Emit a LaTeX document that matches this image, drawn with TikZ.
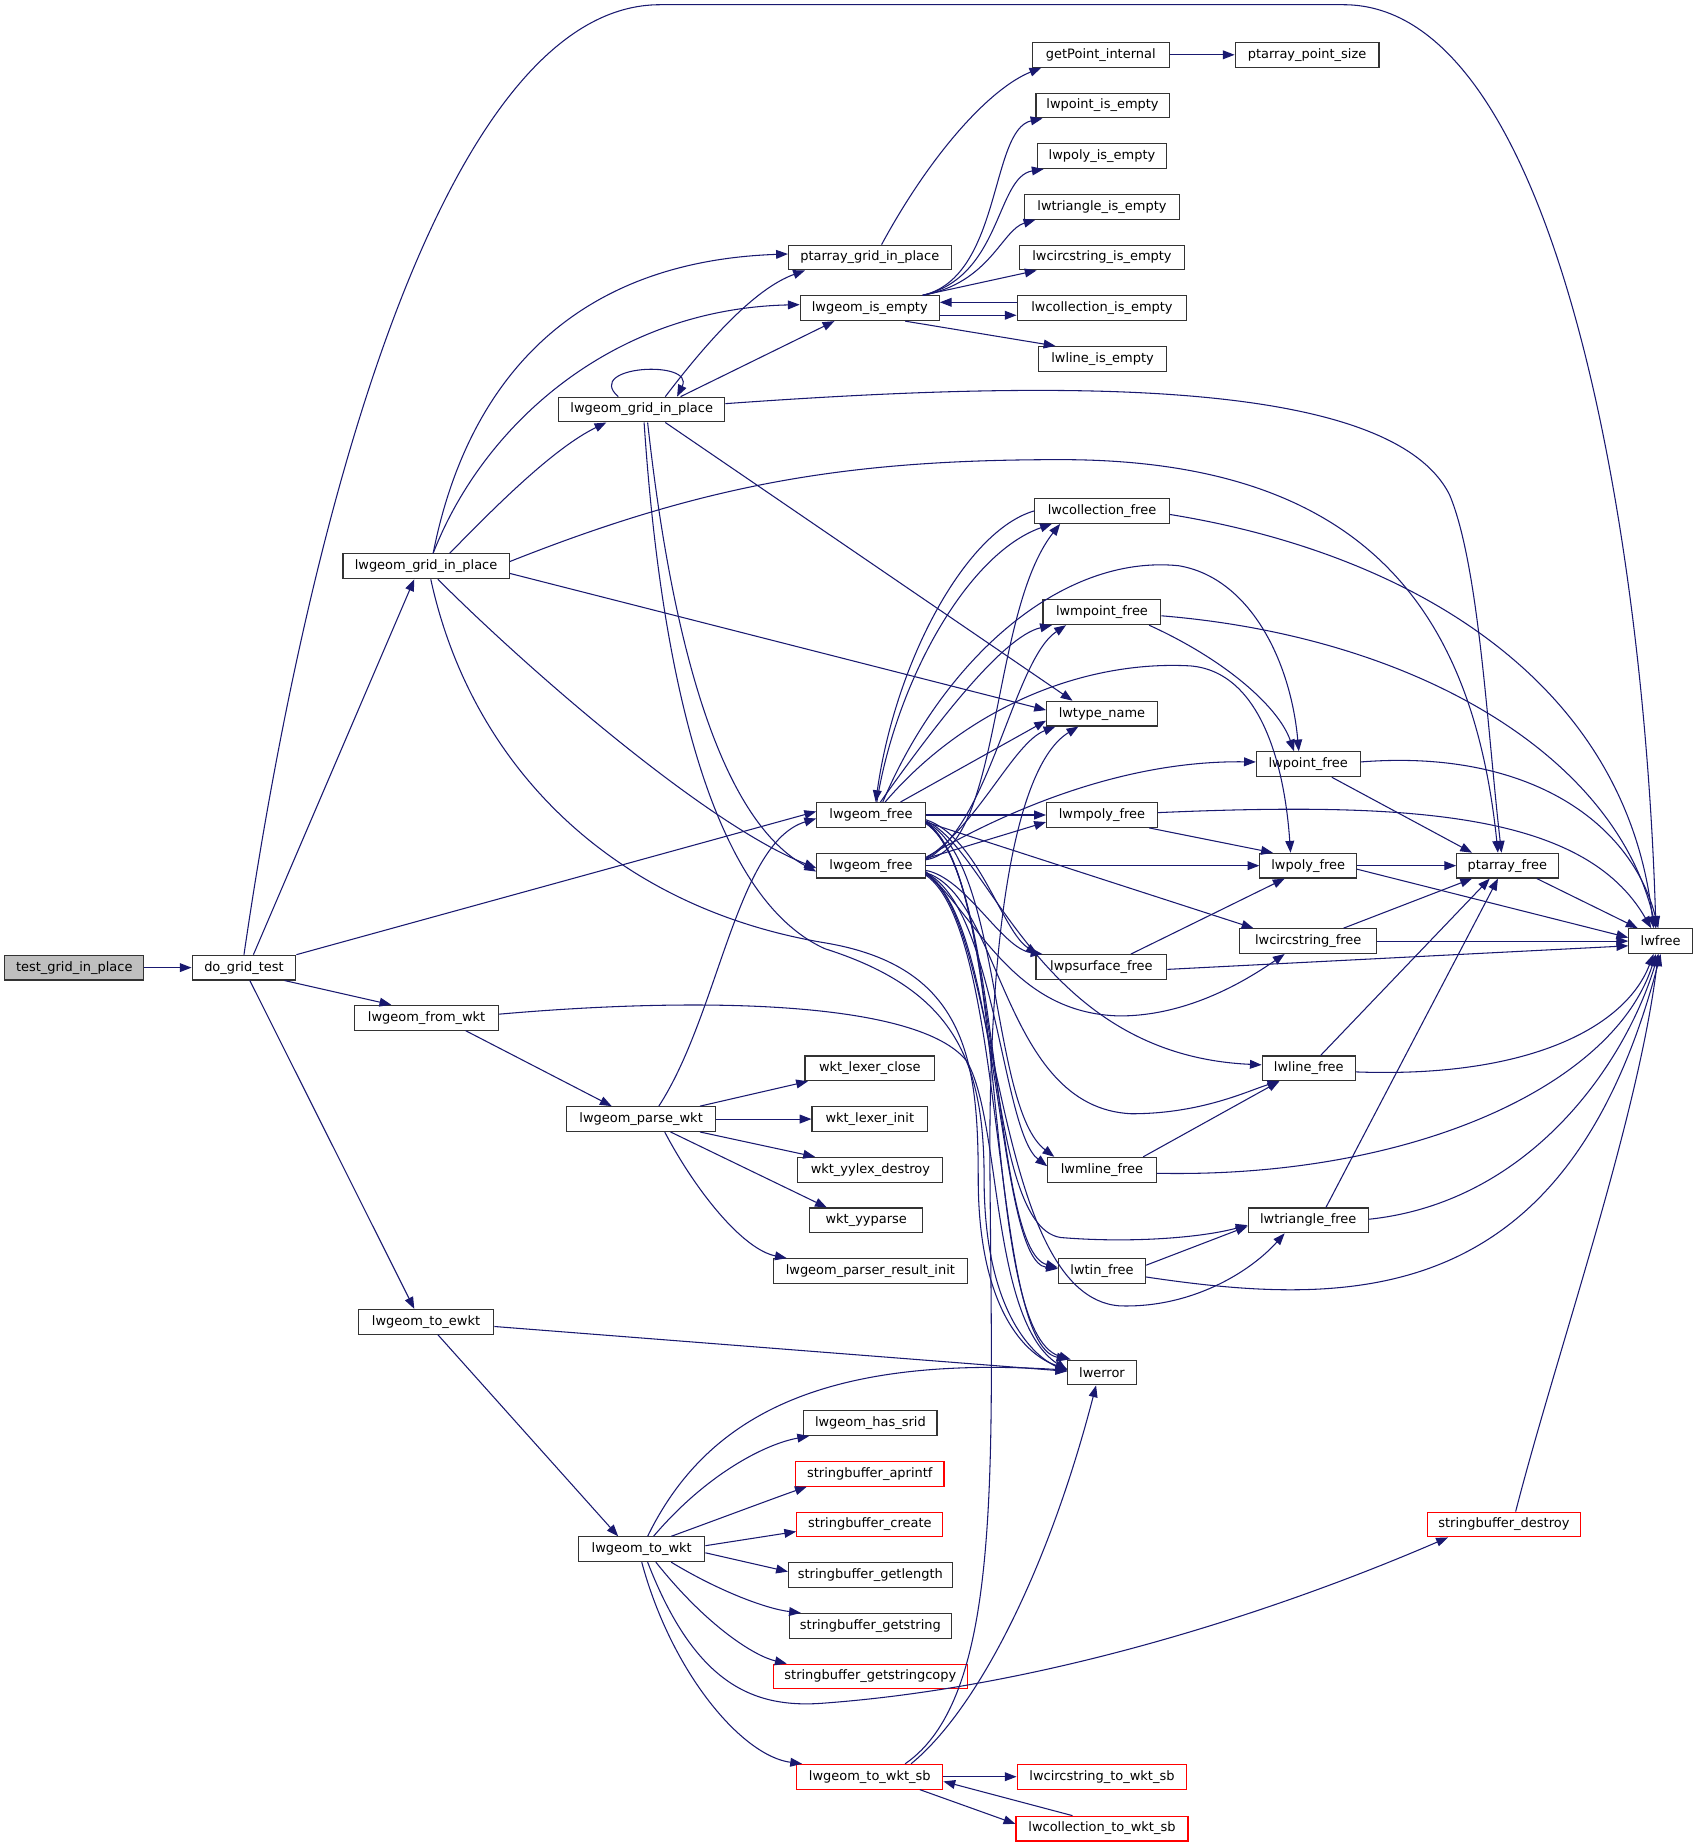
\documentclass[tikz,border=0pt]{standalone}
\usepackage{fontspec}
\setmainfont{DejaVu Sans}
\usetikzlibrary{arrows.meta}
\definecolor{edgec}{HTML}{191970}
\definecolor{boxred}{HTML}{FF0000}
\definecolor{grayfill}{HTML}{BFBFBF}
\definecolor{boxline}{HTML}{333333}
\tikzset{
 fn/.style={draw=boxline, line width=0.95pt, fill=white, minimum height=21pt, inner sep=0pt, font=\fontsize{11}{13}\selectfont, anchor=center},
 fnred/.style={fn, draw=boxred},
 fngray/.style={fn, fill=grayfill},
 e/.style={draw=edgec, line width=0.9pt, -{Triangle[length=10pt,width=7.5pt]}},
}
\begin{document}
\begin{tikzpicture}[x=1pt,y=-1pt]
\useasboundingbox[fill=white] (0,0) rectangle (1440,1568);
% nodes
\node[fngray, minimum width=118pt] (tgip) at (63,821) {test\_grid\_in\_place};
\node[fn, minimum width=88pt] (dgt) at (207,821) {do\_grid\_test};
\node[fn, minimum width=141pt] (lgip1) at (361.5,480.5) {lwgeom\_grid\_in\_place};
\node[fn, minimum width=122pt] (lfw) at (362,863.5) {lwgeom\_from\_wkt};
\node[fn, minimum width=115pt] (lte) at (361.5,1121.5) {lwgeom\_to\_ewkt};
\node[fn, minimum width=138pt] (pgip) at (738,218.5) {ptarray\_grid\_in\_place};
\node[fn, minimum width=118pt] (lie) at (738,261.5) {lwgeom\_is\_empty};
\node[fn, minimum width=141pt] (lgip2) at (544.5,347.5) {lwgeom\_grid\_in\_place};
\node[fn, minimum width=116pt] (gpi) at (934,46.5) {getPoint\_internal};
\node[fn, minimum width=122pt] (pps) at (1109,46.5) {ptarray\_point\_size};
\node[fn, minimum width=113pt] (lpie) at (935.5,89.5) {lwpoint\_is\_empty};
\node[fn, minimum width=110pt] (lpyie) at (935,132.5) {lwpoly\_is\_empty};
\node[fn, minimum width=132pt] (ltie) at (935,175.5) {lwtriangle\_is\_empty};
\node[fn, minimum width=140pt] (lcie) at (935,218.5) {lwcircstring\_is\_empty};
\node[fn, minimum width=144pt] (lcoie) at (935,261.5) {lwcollection\_is\_empty};
\node[fn, minimum width=109pt] (llie) at (935.5,304.5) {lwline\_is\_empty};
\node[fn, minimum width=114pt] (lcof) at (935,433.5) {lwcollection\_free};
\node[fn, minimum width=100pt] (lmpf) at (935,519.5) {lwmpoint\_free};
\node[fn, minimum width=94pt] (ltn) at (935,605.5) {lwtype\_name};
\node[fn, minimum width=88pt] (lptf) at (1110,648.5) {lwpoint\_free};
\node[fn, minimum width=92pt] (lgfA) at (739,691.5) {lwgeom\_free};
\node[fn, minimum width=92pt] (lgfB) at (739,734.5) {lwgeom\_free};
\node[fn, minimum width=94pt] (lmpyf) at (935,691.5) {lwmpoly\_free};
\node[fn, minimum width=82pt] (lpyf) at (1110,734.5) {lwpoly\_free};
\node[fn, minimum width=86pt] (paf) at (1279,734.5) {ptarray\_free};
\node[fn, minimum width=116pt] (lcsf) at (1110,798.5) {lwcircstring\_free};
\node[fn, minimum width=54pt] (lwfree) at (1409,798.5) {lwfree};
\node[fn, minimum width=111pt] (lpsf) at (934.5,820.5) {lwpsurface\_free};
\node[fn, minimum width=79pt] (llf) at (1110.5,906.5) {lwline\_free};
\node[fn, minimum width=92pt] (lmlf) at (935,992.5) {lwmline\_free};
\node[fn, minimum width=102pt] (ltrf) at (1110,1035.5) {lwtriangle\_free};
\node[fn, minimum width=74pt] (ltinf) at (935,1078.5) {lwtin\_free};
\node[fn, minimum width=58pt] (lerr) at (935,1164.5) {lwerror};
\node[fn, minimum width=126pt] (lpw) at (544,949.5) {lwgeom\_parse\_wkt};
\node[fn, minimum width=110pt] (wlc) at (738,906.5) {wkt\_lexer\_close};
\node[fn, minimum width=98pt] (wli) at (738,949.5) {wkt\_lexer\_init};
\node[fn, minimum width=123pt] (wyd) at (738.5,992.5) {wkt\_yylex\_destroy};
\node[fn, minimum width=96pt] (wyp) at (735,1035.5) {wkt\_yyparse};
\node[fn, minimum width=165pt] (lpri) at (738.5,1078.5) {lwgeom\_parser\_result\_init};
\node[fn, minimum width=113pt] (lhs) at (738.5,1207.5) {lwgeom\_has\_srid};
\node[fnred, minimum width=126pt] (sba) at (738,1250.5) {stringbuffer\_aprintf};
\node[fnred, minimum width=124pt] (sbc) at (738,1293.5) {stringbuffer\_create};
\node[fn, minimum width=139pt] (sbgl) at (738.5,1336.5) {stringbuffer\_getlength};
\node[fn, minimum width=137pt] (sbgs) at (738.5,1379.5) {stringbuffer\_getstring};
\node[fnred, minimum width=165pt] (sbgsc) at (738.5,1422.5) {stringbuffer\_getstringcopy};
\node[fn, minimum width=107pt] (ltw) at (544.5,1314.5) {lwgeom\_to\_wkt};
\node[fnred, minimum width=124pt] (ltws) at (738,1507.5) {lwgeom\_to\_wkt\_sb};
\node[fnred, minimum width=144pt] (lcstw) at (935,1507.5) {lwcircstring\_to\_wkt\_sb};
\node[fnred, minimum width=146pt] (lcotw) at (935,1551.5) {lwcollection\_to\_wkt\_sb};
\node[fnred, minimum width=130pt] (sbd) at (1276,1293.5) {stringbuffer\_destroy};

% main
\draw[e] (tgip) -- (dgt);
\draw[e] (dgt.north) .. controls (270,380) and (390,4) .. (560,4) -- (1140,4) .. controls (1320,4) and (1395,450) .. ([xshift=-4pt]lwfree.north);
\draw[e] ([xshift=8pt]dgt.north) -- ([xshift=-10pt]lgip1.south);
\draw[e] (dgt.north east) -- ([yshift=3pt]lgfA.west);
\draw[e] ([xshift=-10pt]dgt.south east) -- ([xshift=-30pt]lfw.north);
\draw[e] ([xshift=5pt]dgt.south) -- ([xshift=-10pt]lte.north);

% lgip1
\draw[e] ([xshift=6pt]lgip1.north) .. controls (395,330) and (480,222) .. ([yshift=3pt]pgip.west);
\draw[e] ([xshift=6pt]lgip1.north) .. controls (410,360) and (520,262) .. ([yshift=3pt]lie.west);
\draw[e] ([xshift=20pt]lgip1.north) .. controls (420,430) and (470,380) .. ([xshift=-30pt]lgip2.south);
\draw[e] ([yshift=4pt]lgip1.east) .. controls (600,410) and (720,390) .. (900,390) .. controls (1160,390) and (1250,520) .. ([xshift=-8pt]paf.north);
\draw[e] ([yshift=-6pt]lgip1.east) -- ([yshift=3pt]ltn.west);
\draw[e] ([xshift=10pt]lgip1.south) .. controls (450,570) and (600,700) .. ([yshift=-2pt]lgfB.west);
\draw[e] ([xshift=4pt]lgip1.south) .. controls (400,650) and (520,770) .. (700,800) .. controls (820,820) and (830,900) .. (830,1000) .. controls (830,1110) and (870,1150) .. ([yshift=3pt]lerr.west);

% lgip2
\draw[e] ([xshift=-20pt]lgip2.north) .. controls (495,310) and (590,305) .. ([xshift=30pt]lgip2.north);
\draw[e] ([xshift=20pt]lgip2.north) .. controls (600,290) and (640,245) .. ([xshift=-55pt]pgip.south);
\draw[e] ([xshift=33pt]lgip2.north) -- ([xshift=-30pt]lie.south);
\draw[e] ([yshift=5pt]lgip2.east) .. controls (900,322) and (1180,320) .. (1230,420) .. controls (1255,480) and (1262,620) .. ([xshift=-5pt]paf.north);
\draw[e] ([xshift=20pt]lgip2.south) -- ([xshift=-25pt]ltn.north);
\draw[e] ([xshift=5pt]lgip2.south) .. controls (565,500) and (600,690) .. ([yshift=-5pt]lgfB.west);
\draw[e] ([xshift=2pt]lgip2.south) .. controls (560,560) and (600,760) .. (700,805) .. controls (810,840) and (835,900) .. (835,1000) .. controls (835,1110) and (875,1150) .. ([yshift=1pt]lerr.west);

% lie
\draw[e] ([xshift=45pt]lie.north) .. controls (850,235) and (840,110) .. ([xshift=6pt]lpie.south west);
\draw[e] ([xshift=45pt]lie.north) .. controls (850,235) and (845,150) .. ([xshift=6pt]lpyie.south west);
\draw[e] ([xshift=45pt]lie.north) .. controls (840,240) and (850,195) .. ([xshift=10pt]ltie.south west);
\draw[e] ([xshift=45pt]lie.north) -- ([xshift=15pt]lcie.south west);
\draw[e] ([yshift=-6pt]lie.east) -- ([yshift=-6pt]lcoie.west);
\draw[e] ([yshift=5pt]lcoie.west) -- ([yshift=5pt]lie.east);
\draw[e] ([xshift=30pt]lie.south) -- ([xshift=-40pt]llie.north);

% pgip
\draw[e] ([xshift=10pt]pgip.north) .. controls (790,130) and (840,75) .. ([xshift=8pt]gpi.south west);
\draw[e] (gpi) -- (pps);

% lgfA
\draw[e] ([xshift=5pt]lgfA.north) .. controls (760,580) and (820,470) .. ([xshift=15pt]lcof.south west);
\draw[e] (lcof.west) .. controls (820,450) and (760,560) .. ([xshift=4pt]lgfA.north);
\draw[e] ([xshift=8pt]lgfA.north) .. controls (790,620) and (850,540) .. ([xshift=8pt]lmpf.south west);
\draw[e] ([xshift=10pt]lgfA.north) .. controls (800,560) and (900,470) .. (1000,480) .. controls (1060,490) and (1095,560) .. ([xshift=-8pt]lptf.north);
\draw[e] ([xshift=12pt]lgfA.north) .. controls (820,600) and (920,560) .. (1010,565) .. controls (1070,570) and (1090,650) .. ([xshift=-15pt]lpyf.north);
\draw[e] ([xshift=25pt]lgfA.north) -- ([yshift=-6pt]ltn.west);
\draw[e] (lgfA.east) -- (lmpyf.west);
\draw[e] ([yshift=-6pt]lgfA.east) -- ([xshift=12pt]lcsf.north west);
\draw[e] ([yshift=-4pt]lgfA.east) .. controls (830,710) and (850,790) .. ([xshift=2pt]lpsf.north west);
\draw[e] ([yshift=-5pt]lgfA.east) .. controls (840,720) and (880,895) .. ([yshift=3pt]llf.west);
\draw[e] ([yshift=-6pt]lgfA.east) .. controls (850,730) and (840,940) .. ([xshift=6pt]lmlf.north west);
\draw[e] ([yshift=-6pt]lgfA.east) .. controls (850,740) and (830,1040) .. (900,1050) .. controls (960,1055) and (1020,1050) .. ([yshift=-4pt]ltrf.west);
\draw[e] ([yshift=-7pt]lgfA.east) .. controls (850,740) and (840,1060) .. ([yshift=3pt]ltinf.west);
\draw[e] ([yshift=-7pt]lgfA.east) .. controls (860,750) and (830,1130) .. ([xshift=3pt]lerr.north west);

% lgfB
\draw[e] ([yshift=5pt]lgfB.east) .. controls (850,720) and (840,520) .. ([xshift=22pt]lcof.south west);
\draw[e] ([yshift=5pt]lgfB.east) .. controls (840,700) and (860,560) .. ([xshift=20pt]lmpf.south west);
\draw[e] ([yshift=6pt]lgfB.east) .. controls (830,700) and (860,630) .. ([xshift=8pt]ltn.south west);
\draw[e] ([yshift=7pt]lgfB.east) .. controls (850,690) and (950,645) .. ([yshift=2pt]lptf.west);
\draw[e] ([yshift=6pt]lgfB.east) -- ([yshift=-6pt]lmpyf.west);
\draw[e] (lgfB.east) -- (lpyf.west);
\draw[e] ([yshift=-4pt]lgfB.east) .. controls (820,745) and (850,805) .. ([xshift=6pt]lpsf.north west);
\draw[e] ([yshift=-5pt]lgfB.east) .. controls (830,780) and (860,860) .. (950,862) .. controls (1010,862) and (1060,830) .. ([xshift=-20pt]lcsf.south);
\draw[e] ([yshift=-6pt]lgfB.east) .. controls (850,760) and (850,940) .. (960,945) .. controls (1020,945) and (1060,925) .. ([xshift=-25pt]llf.south);
\draw[e] ([yshift=-6pt]lgfB.east) .. controls (845,770) and (850,960) .. ([yshift=3pt]lmlf.west);
\draw[e] ([yshift=-7pt]lgfB.east) .. controls (850,780) and (840,1100) .. (950,1108) .. controls (1010,1110) and (1060,1080) .. ([xshift=-20pt]ltrf.south);
\draw[e] ([yshift=-7pt]lgfB.east) .. controls (850,780) and (845,1070) .. ([yshift=2pt]ltinf.west);
\draw[e] ([yshift=-8pt]lgfB.east) .. controls (855,790) and (840,1140) .. ([xshift=1pt]lerr.north west);

% lfw, lpw
\draw[e] ([yshift=3pt]lfw.east) .. controls (600,845) and (780,850) .. (820,900) .. controls (850,950) and (840,1120) .. ([yshift=2pt]lerr.west);
\draw[e] ([xshift=33pt]lfw.south) -- ([xshift=-25pt]lpw.north);
\draw[e] ([xshift=15pt]lpw.north) .. controls (610,860) and (625,715) .. ([yshift=-3pt]lgfA.west);
\draw[e] ([xshift=50pt]lpw.north) -- ([xshift=3pt]wlc.south west);
\draw[e] (lpw.east) -- (wli.west);
\draw[e] ([xshift=50pt]lpw.south) -- ([xshift=15pt]wyd.north west);
\draw[e] ([xshift=25pt]lpw.south) -- ([xshift=15pt]wyp.north west);
\draw[e] ([xshift=20pt]lpw.south) .. controls (590,1010) and (630,1060) .. ([xshift=12pt]lpri.north west);

% lte
\draw[e] ([yshift=-4pt]lte.east) -- ([yshift=1pt]lerr.west);
\draw[e] ([xshift=10pt]lte.south) -- ([xshift=-20pt]ltw.north);

% ltw
\draw[e] ([xshift=5pt]ltw.north) .. controls (600,1200) and (700,1150) .. ([yshift=2pt]lerr.west);
\draw[e] ([xshift=10pt]ltw.north) .. controls (600,1250) and (650,1225) .. ([xshift=5pt]lhs.south west);
\draw[e] ([xshift=25pt]ltw.north) .. controls (620,1285) and (660,1270) .. ([xshift=10pt]sba.south west);
\draw[e] ([yshift=3pt]ltw.east) -- ([yshift=-6pt]sbc.west);
\draw[e] ([yshift=-3pt]ltw.east) -- ([yshift=3pt]sbgl.west);
\draw[e] ([xshift=25pt]ltw.south) .. controls (610,1350) and (650,1365) .. ([xshift=10pt]sbgs.north west);
\draw[e] ([xshift=12pt]ltw.south) .. controls (600,1380) and (640,1405) .. ([xshift=12pt]sbgsc.north west);
\draw[e] ([xshift=5pt]ltw.south) .. controls (590,1430) and (640,1450) .. (700,1445) .. controls (900,1430) and (1100,1360) .. ([xshift=18pt]sbd.south west);
\draw[e] (ltw.south) .. controls (570,1420) and (630,1490) .. ([xshift=5pt]ltws.north west);

% ltws
\draw[e] ([xshift=35pt]ltws.north) .. controls (830,1450) and (890,1330) .. ([xshift=-5pt]lerr.south);
\draw[e] ([xshift=30pt]ltws.north) .. controls (850,1440) and (842,1250) .. (840,1000) .. controls (838,800) and (860,650) .. ([xshift=-20pt]ltn.south);
\draw[e] (ltws.east) -- (lcstw.west);
\draw[e] ([xshift=-20pt]ltws.south east) -- ([yshift=4pt]lcotw.west);
\draw[e] ([xshift=-25pt]lcotw.north) -- ([yshift=-4pt]ltws.east);

% right side
\draw[e] ([xshift=10pt]sbd.north) .. controls (1320,1150) and (1390,950) .. ([xshift=-2pt]lwfree.south);
\draw[e] ([yshift=-3pt]lcof.east) .. controls (1200,470) and (1380,580) .. ([xshift=-6pt]lwfree.north);
\draw[e] ([yshift=-3pt]lmpf.east) .. controls (1200,540) and (1370,640) .. ([xshift=-4pt]lwfree.north);
\draw[e] ([yshift=2pt]lptf.east) .. controls (1300,635) and (1385,700) .. ([xshift=-2pt]lwfree.north);
\draw[e] ([yshift=2pt]lmpyf.east) .. controls (1200,680) and (1345,690) .. ([xshift=-8pt]lwfree.north);
\draw[e] ([yshift=-3pt]lpyf.east) -- ([yshift=3pt]lwfree.west);
\draw[e] ([xshift=25pt]paf.south) -- ([xshift=8pt]lwfree.north west);
\draw[e] (lcsf.east) -- (lwfree.west);
\draw[e] ([yshift=-2pt]lpsf.east) -- ([yshift=-4pt]lwfree.west);
\draw[e] ([yshift=-3pt]llf.east) .. controls (1300,915) and (1380,870) .. ([xshift=-6pt]lwfree.south);
\draw[e] ([yshift=-3pt]lmlf.east) .. controls (1200,1000) and (1370,920) .. ([xshift=-4pt]lwfree.south);
\draw[e] ([yshift=1pt]ltrf.east) .. controls (1300,1020) and (1380,900) .. ([xshift=-2pt]lwfree.south);
\draw[e] ([yshift=-5pt]ltinf.east) .. controls (1150,1110) and (1330,1110) .. (lwfree.south);

\draw[e] ([xshift=20pt]lptf.south) -- ([xshift=-30pt]paf.north);
\draw[e] (lpyf.east) -- (paf.west);
\draw[e] ([xshift=30pt]lcsf.north) -- ([xshift=-30pt]paf.south);
\draw[e] ([xshift=10pt]llf.north) -- ([xshift=-15pt]paf.south);
\draw[e] ([xshift=15pt]ltrf.north) -- ([xshift=-8pt]paf.south);

\draw[e] ([xshift=40pt]lmpf.south) .. controls (1040,560) and (1085,600) .. ([xshift=-12pt]lptf.north);
\draw[e] ([xshift=40pt]lmpyf.south) -- ([xshift=-30pt]lpyf.north);
\draw[e] ([xshift=25pt]lpsf.north) -- ([xshift=-20pt]lpyf.south);
\draw[e] ([xshift=35pt]lmlf.north) -- ([xshift=-25pt]llf.south);
\draw[e] ([yshift=5pt]ltinf.east) -- ([yshift=-5pt]ltrf.west);
\end{tikzpicture}
\end{document}
